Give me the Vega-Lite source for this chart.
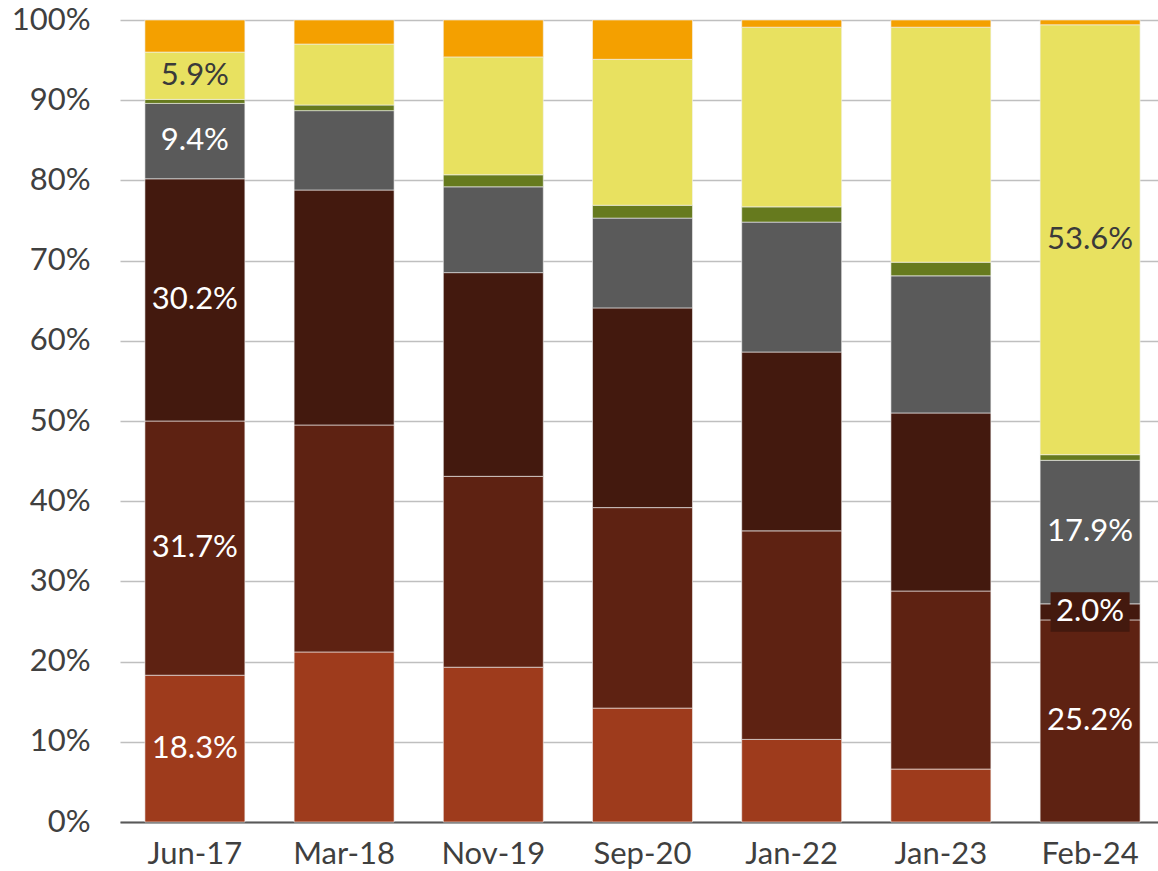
{
  "$schema": "https://vega.github.io/schema/vega-lite/v6.json",
  "width": 1045,
  "height": 802,
  "autosize": {"type": "none"},
  "padding": {"left": 120, "top": 20, "right": 0, "bottom": 49},
  "config": {
    "font": "Lato",
    "view": {"stroke": null},
    "axis": {"labelFont": "Lato", "labelColor": "#404040", "labelFontSize": 31}
  },
  "data": {
    "values": [
      {"period": "Jun-17", "k": 1, "value": 0.183, "show": true},
      {"period": "Jun-17", "k": 2, "value": 0.317, "show": true},
      {"period": "Jun-17", "k": 3, "value": 0.302, "show": true},
      {"period": "Jun-17", "k": 4, "value": 0.094, "show": true},
      {"period": "Jun-17", "k": 5, "value": 0.005, "show": false},
      {"period": "Jun-17", "k": 6, "value": 0.059, "show": true},
      {"period": "Jun-17", "k": 7, "value": 0.040, "show": false},
      {"period": "Mar-18", "k": 1, "value": 0.212, "show": false},
      {"period": "Mar-18", "k": 2, "value": 0.283, "show": false},
      {"period": "Mar-18", "k": 3, "value": 0.293, "show": false},
      {"period": "Mar-18", "k": 4, "value": 0.099, "show": false},
      {"period": "Mar-18", "k": 5, "value": 0.007, "show": false},
      {"period": "Mar-18", "k": 6, "value": 0.076, "show": false},
      {"period": "Mar-18", "k": 7, "value": 0.030, "show": false},
      {"period": "Nov-19", "k": 1, "value": 0.193, "show": false},
      {"period": "Nov-19", "k": 2, "value": 0.238, "show": false},
      {"period": "Nov-19", "k": 3, "value": 0.254, "show": false},
      {"period": "Nov-19", "k": 4, "value": 0.107, "show": false},
      {"period": "Nov-19", "k": 5, "value": 0.015, "show": false},
      {"period": "Nov-19", "k": 6, "value": 0.147, "show": false},
      {"period": "Nov-19", "k": 7, "value": 0.046, "show": false},
      {"period": "Sep-20", "k": 1, "value": 0.142, "show": false},
      {"period": "Sep-20", "k": 2, "value": 0.250, "show": false},
      {"period": "Sep-20", "k": 3, "value": 0.249, "show": false},
      {"period": "Sep-20", "k": 4, "value": 0.112, "show": false},
      {"period": "Sep-20", "k": 5, "value": 0.016, "show": false},
      {"period": "Sep-20", "k": 6, "value": 0.182, "show": false},
      {"period": "Sep-20", "k": 7, "value": 0.049, "show": false},
      {"period": "Jan-22", "k": 1, "value": 0.103, "show": false},
      {"period": "Jan-22", "k": 2, "value": 0.260, "show": false},
      {"period": "Jan-22", "k": 3, "value": 0.223, "show": false},
      {"period": "Jan-22", "k": 4, "value": 0.162, "show": false},
      {"period": "Jan-22", "k": 5, "value": 0.019, "show": false},
      {"period": "Jan-22", "k": 6, "value": 0.224, "show": false},
      {"period": "Jan-22", "k": 7, "value": 0.009, "show": false},
      {"period": "Jan-23", "k": 1, "value": 0.066, "show": false},
      {"period": "Jan-23", "k": 2, "value": 0.222, "show": false},
      {"period": "Jan-23", "k": 3, "value": 0.222, "show": false},
      {"period": "Jan-23", "k": 4, "value": 0.171, "show": false},
      {"period": "Jan-23", "k": 5, "value": 0.017, "show": false},
      {"period": "Jan-23", "k": 6, "value": 0.293, "show": false},
      {"period": "Jan-23", "k": 7, "value": 0.009, "show": false},
      {"period": "Feb-24", "k": 2, "value": 0.252, "show": true},
      {"period": "Feb-24", "k": 3, "value": 0.020, "show": true, "boxed": true},
      {"period": "Feb-24", "k": 4, "value": 0.179, "show": true},
      {"period": "Feb-24", "k": 5, "value": 0.007, "show": false},
      {"period": "Feb-24", "k": 6, "value": 0.536, "show": true},
      {"period": "Feb-24", "k": 7, "value": 0.006, "show": false}
    ]
  },
  "transform": [
    {"stack": "value", "groupby": ["period"], "sort": [{"field": "k"}], "as": ["lo", "hi"]},
    {"calculate": "(datum.lo + datum.hi) / 2", "as": "mid"}
  ],
  "encoding": {
    "x": {
      "field": "period", "type": "nominal", "sort": null, "title": null,
      "scale": {"paddingInner": 0.33, "paddingOuter": 0.167},
      "axis": {"labelAngle": 0, "ticks": false, "labelPadding": 17, "domainColor": "#595959", "domainWidth": 2, "grid": false, "labelColor": "#3F3F3F"}
    }
  },
  "layer": [
    {
      "mark": {"type": "bar", "stroke": "#F2F2F2", "strokeWidth": 1, "strokeOpacity": 0.6},
      "encoding": {
        "y": {
          "field": "lo", "type": "quantitative", "title": null,
          "scale": {"domain": [0, 1], "nice": false},
          "axis": {"format": ".0%", "values": [0, 0.1, 0.2, 0.3, 0.4, 0.5, 0.6, 0.7, 0.8, 0.9, 1], "labelOverlap": false, "labelBound": false, "labelFlush": false, "ticks": false, "domain": false, "labelPadding": 30, "gridColor": "#BFBFBF", "gridWidth": 1.3}
        },
        "y2": {"field": "hi"},
        "color": {
          "field": "k", "type": "ordinal", "legend": null,
          "scale": {"domain": [1, 2, 3, 4, 5, 6, 7], "range": ["#9E3B1C", "#5E2212", "#43190E", "#5A5A5A", "#667A1E", "#E8E160", "#F4A000"]}
        }
      }
    },
    {
      "transform": [{"filter": "datum.boxed === true"}],
      "mark": {"type": "point", "filled": true, "opacity": 1, "shape": "M-1,-0.5L1,-0.5L1,0.5L-1,0.5Z", "size": 6241, "color": "#43190E"},
      "encoding": {"y": {"field": "mid", "type": "quantitative"}}
    },
    {
      "transform": [{"filter": "datum.show === true"}],
      "mark": {"type": "text", "fontSize": 31, "font": "Lato", "baseline": "middle", "align": "center"},
      "encoding": {
        "y": {"field": "mid", "type": "quantitative"},
        "text": {"field": "value", "type": "quantitative", "format": ".1%"},
        "color": {
          "condition": {"test": "datum.k === 6", "value": "#3A3A3A"},
          "value": "#FFFFFF"
        }
      }
    }
  ]
}
